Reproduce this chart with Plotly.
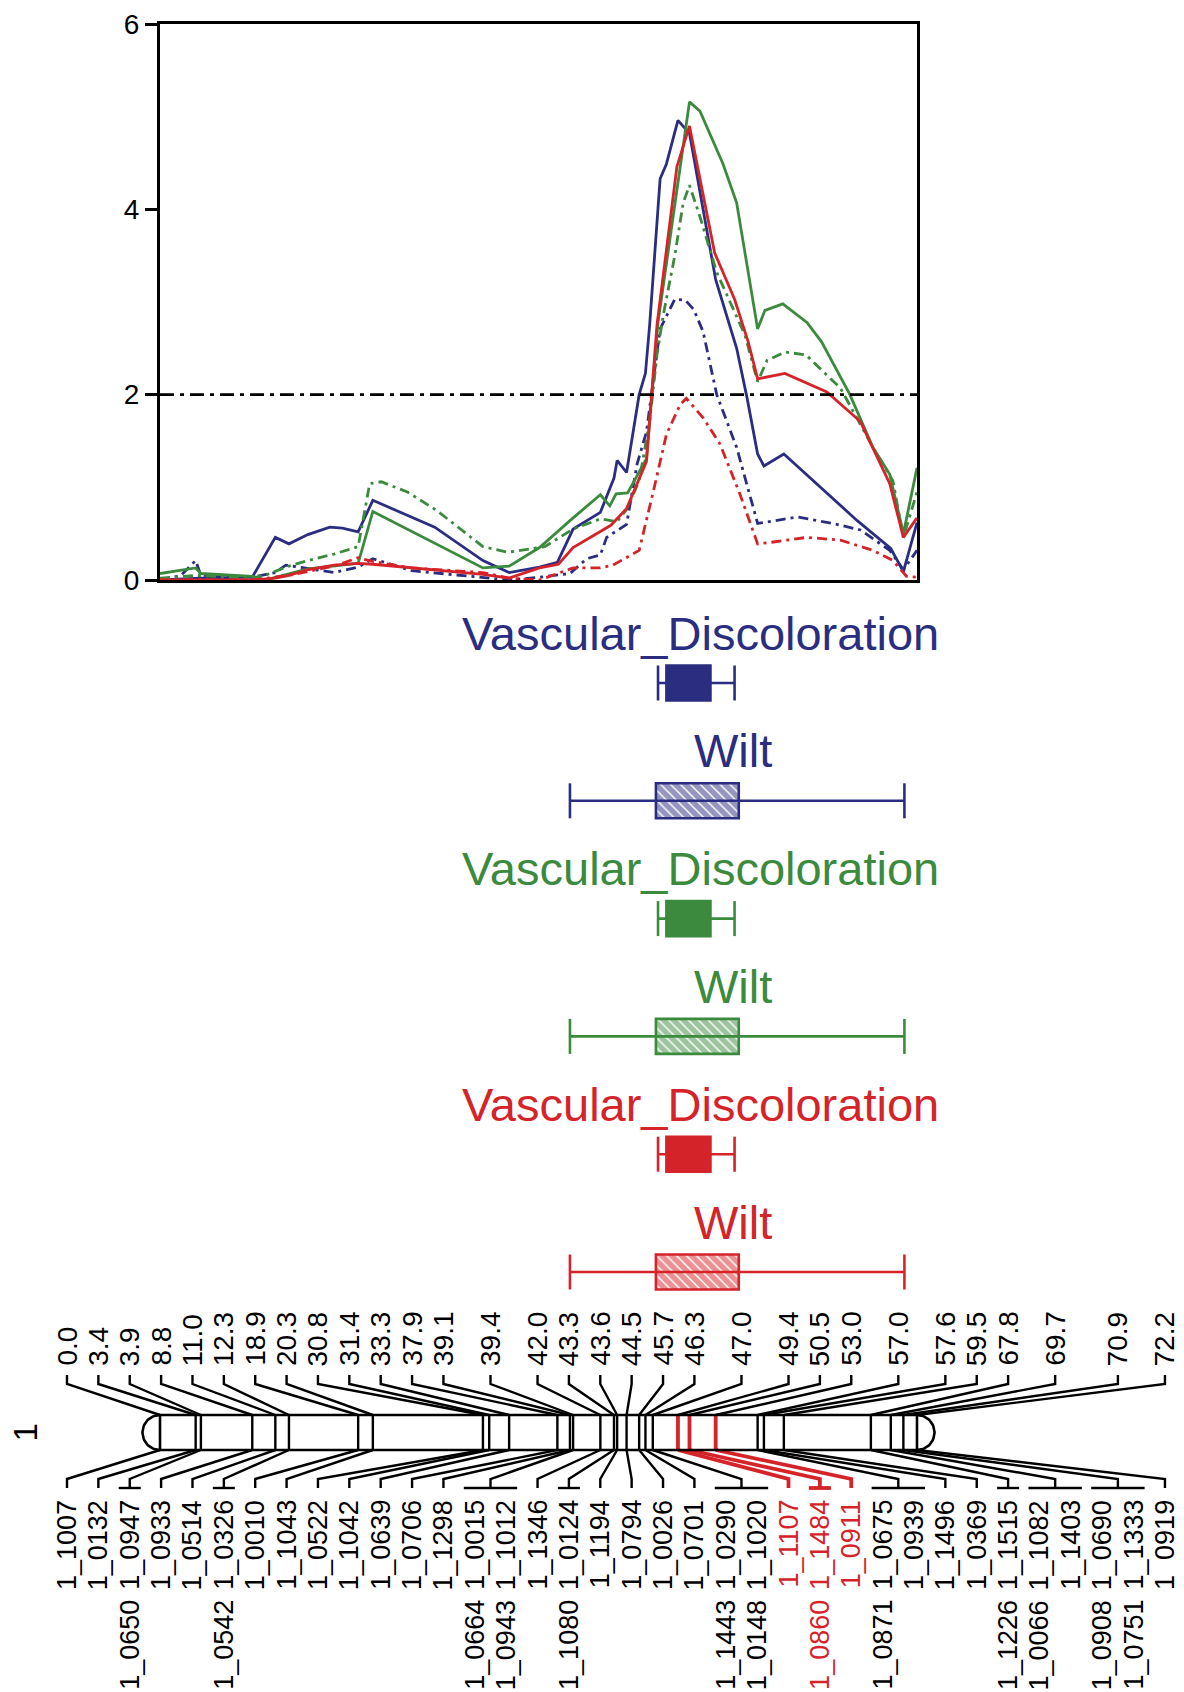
import plotly.graph_objects as go
import numpy as np

W, H = 1184, 1692
FONT = "Liberation Sans, Arial, sans-serif"
BLUE, GREEN, RED = "#2b2e80", "#3b8a3d", "#d5232a"
DASH = "10px,5px,3px,5px"

# ---------------- LOD profiles (cM, LOD) ----------------
blue_vd_x = [0.0, 3.4, 3.9, 8.8, 11.0, 12.3, 14.1, 16.2, 17.4, 18.9, 20.3, 26.2, 30.8, 33.3, 36.2, 37.9, 39.4,
             42.0, 43.3, 43.6, 44.5, 45.7, 46.3, 46.7, 47.7, 48.3, 49.4, 50.5, 53.0, 55.0, 56.0, 57.0, 57.6,
             59.5, 66.5, 69.7, 70.9, 72.2]
blue_vd_y = [0.00, 0.02, 0.02, 0.03, 0.46, 0.39, 0.49, 0.57, 0.56, 0.52, 0.86, 0.57, 0.21, 0.08, 0.14, 0.19, 0.55,
             0.73, 1.10, 1.29, 1.16, 2.00, 2.23, 2.75, 4.33, 4.49, 4.96, 4.82, 3.24, 2.50, 1.96, 1.36, 1.23,
             1.36, 0.64, 0.34, 0.09, 0.62]

blue_wilt_x = [0.0, 2.0, 3.4, 3.9, 8.8, 11.0, 12.0, 14.1, 16.6, 18.9, 20.3, 24.0, 30.8, 33.3, 36.2, 39.1, 40.7,
               42.0, 42.6, 44.5, 45.5, 46.4, 47.2, 47.7, 49.1, 50.1, 50.9, 51.8, 53.1, 55.0, 57.0, 58.5, 60.8,
               64.2, 66.8, 69.6, 70.9, 72.2]
blue_wilt_y = [0.00, 0.05, 0.21, 0.05, 0.03, 0.08, 0.16, 0.12, 0.08, 0.14, 0.23, 0.10, 0.03, 0.00, 0.03, 0.07, 0.23,
               0.27, 0.46, 0.60, 1.25, 1.60, 2.28, 2.71, 3.03, 3.02, 2.92, 2.68, 2.00, 1.43, 0.61, 0.64, 0.68,
               0.61, 0.54, 0.32, 0.11, 0.32]

green_vd_x = [0.0, 3.4, 3.9, 8.8, 10.0, 12.3, 14.1, 16.5, 18.9, 20.3, 30.8, 33.3, 36.2, 39.4, 42.0, 42.9, 43.5,
              44.6, 46.4, 47.5, 50.5, 51.5, 53.7, 55.0, 57.0, 57.7, 59.4, 61.7, 63.1, 65.8, 68.0, 69.6, 70.9, 72.2]
green_vd_y = [0.07, 0.13, 0.07, 0.04, 0.00, 0.07, 0.12, 0.15, 0.18, 0.74, 0.13, 0.15, 0.35, 0.67, 0.92, 0.80, 0.93,
              0.94, 1.31, 2.78, 5.16, 5.06, 4.49, 4.07, 2.71, 2.91, 2.98, 2.78, 2.57, 2.00, 1.43, 1.14, 0.50, 1.21]

green_wilt_x = [0.0, 3.4, 8.8, 10.0, 12.3, 14.1, 16.6, 18.9, 20.0, 21.1, 23.6, 26.4, 30.8, 33.2, 36.7, 39.4, 42.0,
                43.6, 44.5, 45.7, 46.7, 47.4, 48.0, 49.1, 49.9, 50.5, 51.5, 53.1, 55.8, 57.0, 57.9, 59.6, 61.6,
                64.9, 68.0, 69.9, 70.9, 72.2]
green_wilt_y = [0.02, 0.05, 0.02, 0.05, 0.15, 0.21, 0.28, 0.36, 1.04, 1.06, 0.95, 0.75, 0.36, 0.30, 0.36, 0.55, 0.66,
                0.63, 0.76, 1.07, 1.71, 2.43, 2.86, 3.50, 4.07, 4.26, 3.92, 3.32, 2.64, 2.14, 2.37, 2.46, 2.43,
                2.07, 1.43, 1.07, 0.46, 0.95]

red_vd_x = [0.0, 8.8, 11.0, 12.3, 14.0, 16.6, 18.9, 20.3, 30.8, 33.3, 36.2, 38.0, 39.4, 43.0, 44.5, 46.4, 47.4,
            49.3, 50.5, 52.9, 54.8, 56.1, 57.0, 59.6, 63.6, 66.8, 69.6, 70.9, 72.2]
red_vd_y = [0.00, 0.00, 0.02, 0.05, 0.11, 0.16, 0.18, 0.17, 0.06, 0.02, 0.13, 0.17, 0.35, 0.59, 0.77, 1.28, 2.75,
            4.46, 4.90, 3.53, 3.03, 2.57, 2.17, 2.23, 2.03, 1.71, 1.04, 0.46, 0.67]

red_wilt_x = [0.0, 8.8, 12.3, 16.6, 18.9, 20.3, 24.0, 30.8, 33.3, 36.2, 39.4, 42.0, 43.2, 45.7, 47.0, 48.3, 49.6,
              50.2, 51.8, 53.4, 55.3, 57.0, 58.5, 61.7, 64.9, 68.0, 69.9, 71.2, 72.2]
red_wilt_y = [0.00, 0.00, 0.05, 0.15, 0.24, 0.20, 0.13, 0.08, 0.02, 0.00, 0.13, 0.13, 0.16, 0.32, 0.93, 1.57, 1.89,
              1.96, 1.75, 1.47, 0.93, 0.39, 0.41, 0.46, 0.43, 0.32, 0.21, 0.04, 0.03]

lod_threshold = 2.0
lod_ticks = [0, 2, 4, 6]
chrom_length = 72.2

# ---------------- QTL intervals (cM) ----------------
qtl_traits = ["Vascular_Discoloration", "Wilt"]
qtl_ci_lo = [47.5, 39.1]
qtl_ci_hi = [54.8, 71.0]
qtl_box_lo = [48.3, 47.3]
qtl_box_hi = [52.5, 55.2]
qtl_colors = [BLUE, GREEN, RED]

# ---------------- linkage map ----------------
chrom_name = "1"
marker_pos = [0.0, 3.4, 3.9, 8.8, 11.0, 12.3, 18.9, 20.3, 30.8, 31.4, 33.3, 37.9, 39.1, 39.4, 42.0, 43.3, 43.6,
              44.5, 45.7, 46.3, 47.0, 49.4, 50.5, 53.0, 57.0, 57.6, 59.5, 67.8, 69.7, 70.9, 72.2]
marker_names = [["1_1007"], ["1_0132"], ["1_0947", "1_0650"], ["1_0933"], ["1_0514"], ["1_0326", "1_0542"],
                ["1_0010"], ["1_1043"], ["1_0522"], ["1_1042"], ["1_0639"], ["1_0706"], ["1_1298"],
                ["1_0015", "1_0664", "1_1012", "1_0943"], ["1_1346"], ["1_0124", "1_1080"], ["1_1194"],
                ["1_0794"], ["1_0026"], ["1_0701"], ["1_0290", "1_1443", "1_1020", "1_0148"], ["1_1107"],
                ["1_1484", "1_0860"], ["1_0911"], ["1_0675", "1_0871", "1_0939"], ["1_1496"], ["1_0369"],
                ["1_1515", "1_1226"], ["1_1082", "1_0066", "1_1403"], ["1_0690", "1_0908", "1_1333", "1_0751"],
                ["1_0919"]]
highlight_pos = [49.4, 50.5, 53.0]

# ---------------- geometry (pixels) ----------------
PL, PR, PT, PB = 152, 909, 16, 572
S = (PR - PL) / chrom_length


def cm(px):
    return (px - PL) / S


fig = go.Figure()

series = [(blue_vd_x, blue_vd_y, BLUE, "solid"), (blue_wilt_x, blue_wilt_y, BLUE, DASH),
          (green_vd_x, green_vd_y, GREEN, "solid"), (green_wilt_x, green_wilt_y, GREEN, DASH),
          (red_wilt_x, red_wilt_y, RED, DASH), (red_vd_x, red_vd_y, RED, "solid")]
for x, y, c, d in series:
    fig.add_trace(go.Scatter(x=x, y=y, mode="lines", line=dict(color=c, width=2.8, dash=d),
                             xaxis="x", yaxis="y", hoverinfo="skip"))

fig.add_shape(type="line", xref="x", yref="y", x0=0, x1=chrom_length, y0=lod_threshold, y1=lod_threshold,
              line=dict(color="black", width=2.8, dash="14px,6px,4px,6px"))

# ---------------- QTL bars ----------------
ROW0, ROW_STEP, BOX_H = 675, 117.8, 35
TXT_DY = -50
TXT_XSHIFT = [4, -4]
k = 0
for color in qtl_colors:
    for t in range(2):
        yc = ROW0 + k * ROW_STEP
        lo, hi = qtl_ci_lo[t], qtl_ci_hi[t]
        fig.add_trace(go.Scatter(
            x=[lo, hi, None, lo, lo, None, hi, hi],
            y=[yc, yc, None, yc - BOX_H / 2, yc + BOX_H / 2, None, yc - BOX_H / 2, yc + BOX_H / 2],
            mode="lines", line=dict(color=color, width=2.6), xaxis="x2", yaxis="y2", hoverinfo="skip"))
        marker = dict(color=color, line=dict(color=color, width=2.6))
        if t == 1:
            marker["color"] = "white"
            marker["pattern"] = dict(shape="\\", fgcolor=color, bgcolor="white", size=7, solidity=0.8)
        fig.add_trace(go.Bar(x=[qtl_box_hi[t] - qtl_box_lo[t]], base=[qtl_box_lo[t]], y=[yc], width=BOX_H,
                             orientation="h", marker=marker, xaxis="x2", yaxis="y2", hoverinfo="skip"))
        fig.add_annotation(x=(lo + hi) / 2, y=yc + TXT_DY, xref="x2", yref="y2", text=qtl_traits[t],
                           xshift=TXT_XSHIFT[t], showarrow=False,
                           font=dict(size=47, color=color, family=FONT))
        k += 1

# ---------------- chromosome ----------------
BT, BB = 1407, 1442
BC = (BT + BB) / 2
R = (BB - BT) / 2
fig.add_shape(type="rect", xref="x2", yref="y2", x0=0, x1=chrom_length, y0=BT, y1=BB,
              line=dict(color="black", width=2.6), fillcolor="rgba(0,0,0,0)")
th = np.linspace(np.pi / 2, 3 * np.pi / 2, 40)
fig.add_trace(go.Scatter(x=[cm(PL + R * np.cos(a)) for a in th], y=[BC + R * np.sin(a) for a in th],
                         mode="lines", line=dict(color="black", width=2.6), xaxis="x2", yaxis="y2",
                         hoverinfo="skip"))
th2 = np.linspace(-np.pi / 2, np.pi / 2, 40)
fig.add_trace(go.Scatter(x=[cm(PR + R * np.cos(a)) for a in th2], y=[BC + R * np.sin(a) for a in th2],
                         mode="lines", line=dict(color="black", width=2.6), xaxis="x2", yaxis="y2",
                         hoverinfo="skip"))

COL0, COL_STEP = 59, 31.37
TOP_TXT, TOP_T1, TOP_T2 = 1360, 1367, 1376
BOT_D, BOT_V = 1471, 1480
ROW1_Y, ROW2_Y = 1490, 1590
LABEL_FS = 27

bx, by, rx, ry = [], [], [], []
col = 0
for p, names in zip(marker_pos, marker_names):
    cols = [names[i:i + 2] for i in range(0, len(names), 2)]
    cxs = [COL0 + COL_STEP * (col + j) for j in range(len(cols))]
    col += len(cols)
    gx = cm(sum(cxs) / len(cxs))
    red = p in highlight_pos
    if 0 < p < chrom_length:
        if red:
            rx += [p, p, None]
            ry += [BT, BB, None]
        else:
            bx += [p, p, None]
            by += [BT, BB, None]
    bx += [gx, gx, p, None]
    by += [TOP_T1, TOP_T2, BT, None]
    tx, ty = (rx, ry) if red else (bx, by)
    tx += [p, gx, gx, None]
    ty += [BB, BOT_D, BOT_V, None]
    if len(names) > 1:
        tx += [cm(cxs[0] - 11), cm(cxs[-1] + 11), None]
        ty += [BOT_V, BOT_V, None]
    fig.add_annotation(x=gx, y=TOP_TXT, xref="x2", yref="y2", text=f"{p:.1f}", textangle=-90,
                       showarrow=False, yanchor="bottom", xanchor="center",
                       font=dict(size=28, color="black", family=FONT))
    for cx, pair in zip(cxs, cols):
        for r, nm in enumerate(pair):
            fig.add_annotation(x=cm(cx), y=ROW1_Y if r == 0 else ROW2_Y, xref="x2", yref="y2", text=nm,
                               textangle=-90, showarrow=False, yanchor="top", xanchor="center",
                               font=dict(size=LABEL_FS, color=RED if red else "black", family=FONT))

fig.add_trace(go.Scatter(x=bx, y=by, mode="lines", line=dict(color="black", width=2.4),
                         xaxis="x2", yaxis="y2", hoverinfo="skip"))
fig.add_trace(go.Scatter(x=rx, y=ry, mode="lines", line=dict(color=RED, width=3.8),
                         xaxis="x2", yaxis="y2", hoverinfo="skip"))

fig.add_annotation(x=cm(17), y=BC, xref="x2", yref="y2", text=chrom_name, textangle=-90,
                   showarrow=False, font=dict(size=33, color="black", family=FONT))

fig.update_layout(
    width=W, height=H, margin=dict(l=0, r=0, t=0, b=0, pad=0, autoexpand=False),
    paper_bgcolor="white", plot_bgcolor="rgba(0,0,0,0)", showlegend=False, barmode="overlay",
    xaxis=dict(domain=[PL / W, PR / W], range=[0, chrom_length], showline=True, linewidth=3,
               linecolor="black", mirror=True, showticklabels=False, ticks="", showgrid=False,
               zeroline=False, automargin=False),
    yaxis=dict(domain=[(H - PB) / H, (H - PT) / H], range=[0, 6], tickvals=lod_ticks, ticks="outside",
               ticklen=12, tickwidth=3, tickcolor="black", showline=True, linewidth=3, linecolor="black",
               mirror=True, showgrid=False, zeroline=False, automargin=False, ticklabeloverflow="allow",
               tickfont=dict(size=28, family=FONT, color="black")),
    xaxis2=dict(domain=[0, 1], range=[cm(0), cm(W)], visible=False, anchor="y2", automargin=False),
    yaxis2=dict(domain=[0, 1], range=[H, 0], visible=False, anchor="x2", automargin=False),
)

fig.write_html("out.html")
